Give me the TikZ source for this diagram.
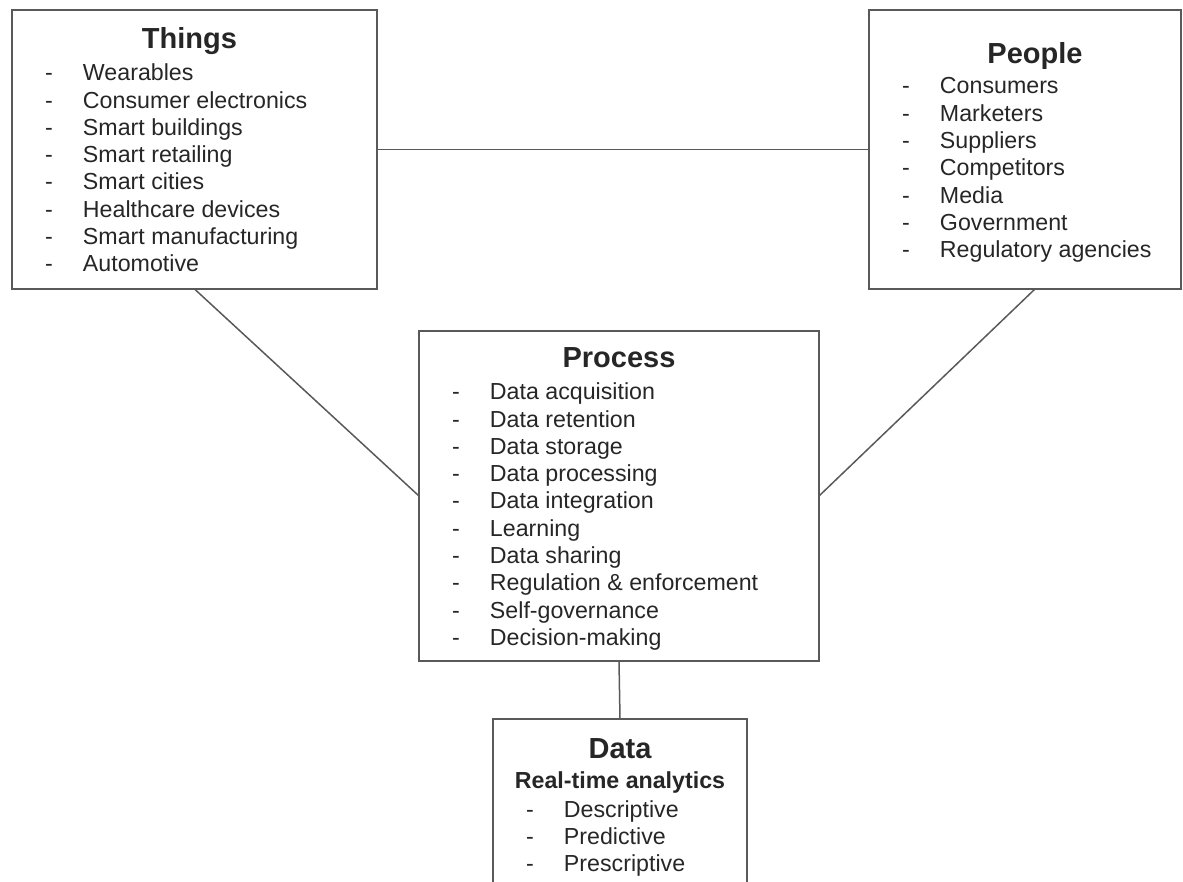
\documentclass[tikz,border=0pt]{standalone}
\usepackage{fontspec}
\setmainfont{Liberation Sans}

% title line of a box: shift, baseline offset, text
\newcommand{\headline}[3]{\makebox[\linewidth]{\hspace*{#1}\rule{0pt}{#2}{\fontsize{29}{30}\selectfont\bfseries #3}}\par}
% one dashed list entry
\newcommand{\entry}[1]{\hspace*{33pt}\makebox[38pt][l]{-}#1\par}

\begin{document}
\begin{tikzpicture}[x=1pt,y=-1pt,
  listbox/.style={draw=black!65, line width=1.6pt, rectangle, inner sep=0pt, outer sep=0pt, anchor=north west, text=black!85},
  link/.style={draw=black!65, line width=1.5pt}]
\useasboundingbox (0,0) rectangle (1183,882);

\node[listbox] (things) at (12,10) {\parbox[c][279pt][t]{365pt}{\fontsize{23.2}{27.3}\selectfont
  \headline{-10pt}{39pt}{Things}\vspace{4.5pt}
  \entry{Wearables}
  \entry{Consumer electronics}
  \entry{Smart buildings}
  \entry{Smart retailing}
  \entry{Smart cities}
  \entry{Healthcare devices}
  \entry{Smart manufacturing}
  \entry{Automotive}}};

\node[listbox] (people) at (869,10) {\parbox[c][279pt][t]{312pt}{\fontsize{23.2}{27.3}\selectfont
  \headline{20pt}{54pt}{People}\vspace{2.7pt}
  \entry{Consumers}
  \entry{Marketers}
  \entry{Suppliers}
  \entry{Competitors}
  \entry{Media}
  \entry{Government}
  \entry{Regulatory agencies}}};

\node[listbox] (process) at (419,331) {\parbox[c][330pt][t]{400pt}{\fontsize{23.2}{27.3}\selectfont
  \headline{0pt}{36.5pt}{Process}\vspace{4.9pt}
  \entry{Data acquisition}
  \entry{Data retention}
  \entry{Data storage}
  \entry{Data processing}
  \entry{Data integration}
  \entry{Learning}
  \entry{Data sharing}
  \entry{Regulation \& enforcement}
  \entry{Self-governance}
  \entry{Decision-making}}};

\node[listbox] (data) at (493,719) {\parbox[c][200pt][t]{254pt}{\fontsize{23.2}{27.3}\selectfont
  \headline{0pt}{39pt}{Data}\vspace{2.7pt}
  \makebox[\linewidth]{\bfseries Real-time analytics}\par\vspace{1.7pt}
  \entry{Descriptive}
  \entry{Predictive}
  \entry{Prescriptive}}};

\draw[link] (things.east) -- (people.west);
\draw[link] (things.south) -- (process.west);
\draw[link] ([xshift=10pt]people.south) -- (process.east);
\draw[link] (process.south) -- (data.north);
\end{tikzpicture}
\end{document}
